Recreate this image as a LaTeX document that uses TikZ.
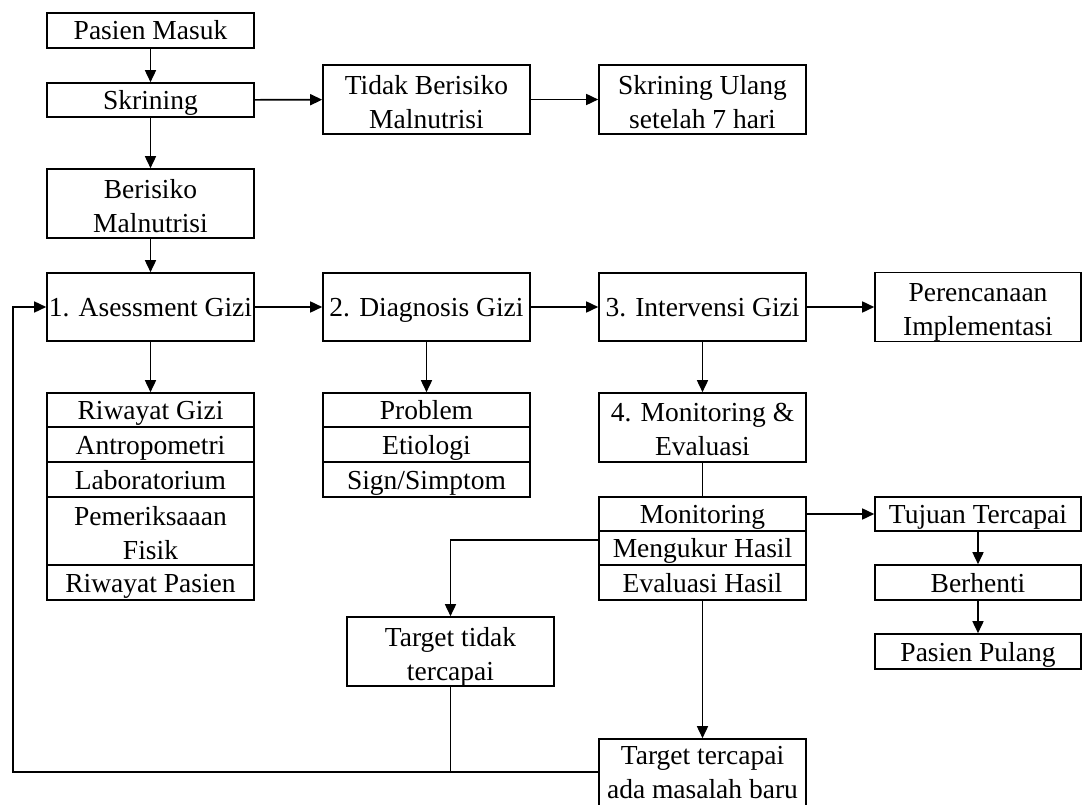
\documentclass[tikz,border=0pt]{standalone}
\usepackage{fontspec}
\setmainfont{Liberation Serif}
\usetikzlibrary{arrows.meta}
\newcommand\boxstrut{\rule[-7pt]{0pt}{33pt}}
\newcommand\dn[1]{\raisebox{-5.5pt}[\height][\depth]{#1}}
\newcommand\dnn[1]{\raisebox{-2pt}[\height][\depth]{#1}}
\tikzset{
  box/.style={draw, line width=1.6pt, minimum width=207pt, inner sep=0pt, align=center,
    font=\fontsize{27.5}{34}\selectfont,
    execute at begin node=\boxstrut, execute at end node=\boxstrut},
  arr/.style={line width=1.6pt, -{Triangle[length=12pt,width=11pt]}},
  ln/.style={line width=1.6pt},
}
\begin{document}
\begin{tikzpicture}[x=1pt,y=-1pt]
\useasboundingbox (0,0) rectangle (1082,805);
% column 1
\node[box, minimum height=35pt] (pm) at (150.5,30.5) {Pasien Masuk};
\node[box, minimum height=34pt] (skr) at (150.5,100) {Skrining};
\node[box, minimum height=69pt] (ber) at (150.5,203.5) {\dn{Berisiko}\\\dn{Malnutrisi}};
\node[box, minimum height=68pt] (a1) at (150.5,307) {1. Asessment Gizi};
\node[box, minimum height=34pt] (rg) at (150.5,410) {Riwayat Gizi};
\node[box, minimum height=35pt] (an) at (150.5,444.5) {Antropometri};
\node[box, minimum height=35pt] (lab) at (150.5,479.5) {Laboratorium};
\node[box, minimum height=68pt] (pf) at (150.5,531) {\dn{Pemeriksaaan}\\\dn{Fisik}};
\node[box, minimum height=35pt] (rp) at (150.5,582.5) {Riwayat Pasien};
% column 2
\node[box, minimum height=69pt] (tb) at (426.5,99.5) {\dn{Tidak Berisiko}\\\dn{Malnutrisi}};
\node[box, minimum height=68pt] (d2) at (426.5,307) {2. Diagnosis Gizi};
\node[box, minimum height=34pt] (prob) at (426.5,410) {Problem};
\node[box, minimum height=35pt] (eti) at (426.5,444.5) {Etiologi};
\node[box, minimum height=35pt] (sign) at (426.5,479.5) {Sign/Simptom};
\node[box, minimum height=69pt] (tt) at (450.5,651.5) {\dn{Target tidak}\\\dn{tercapai}};
% column 3
\node[box, minimum height=69pt] (su) at (702.5,99.5) {\dn{Skrining Ulang}\\\dn{setelah 7 hari}};
\node[box, minimum height=68pt] (i3) at (702.5,307) {3. Intervensi Gizi};
\node[box, minimum height=69pt] (me) at (702.5,427.5) {\dn{4. Monitoring \&}\\\dn{Evaluasi}};
\node[box, minimum height=34pt] (mon) at (702.5,514) {Monitoring};
\node[box, minimum height=34pt] (uk) at (702.5,548) {Mengukur Hasil};
\node[box, minimum height=35pt] (ev) at (702.5,582.5) {Evaluasi Hasil};
\node[box, minimum height=69pt] (tc) at (702.5,773.5) {\dnn{Target tercapai}\\\dnn{ada masalah baru}};
% column 4
\node[box, minimum width=206pt, minimum height=69pt] (pi) at (978,307) {\dn{Perencanaan}\\\dn{Implementasi}};
\node[box, minimum width=206pt, minimum height=34pt] (tuj) at (978,514) {Tujuan Tercapai};
\node[box, minimum width=206pt, minimum height=35pt] (bh) at (978,582.5) {Berhenti};
\node[box, minimum width=206pt, minimum height=35pt] (pp) at (978,651.5) {Pasien Pulang};
% connectors
\draw[arr] (pm) -- (skr);
\draw[arr] (skr) -- (ber);
\draw[arr] (ber) -- (a1);
\draw[arr] (skr) -- (tb);
\draw[arr] (tb) -- (su);
\draw[arr] (a1) -- (d2);
\draw[arr] (d2) -- (i3);
\draw[arr] (i3) -- (pi);
\draw[arr] (a1) -- (rg);
\draw[arr] (d2) -- (prob);
\draw[arr] (i3) -- (me);
\draw[ln] (me) -- (mon);
\draw[arr] (mon) -- (tuj);
\draw[arr] (tuj) -- (bh);
\draw[arr] (bh) -- (pp);
\draw[arr] ([yshift=8pt]uk.west) -| (tt.north);
\draw[arr] (ev.south) -- (tc.north);
\coordinate (fb) at (13,772);
\draw[arr] ([yshift=1.5pt]tc.west) -- (fb) |- (a1.west);
\draw[ln] (tt.south) -- (tt.south |- fb);
\end{tikzpicture}
\end{document}
